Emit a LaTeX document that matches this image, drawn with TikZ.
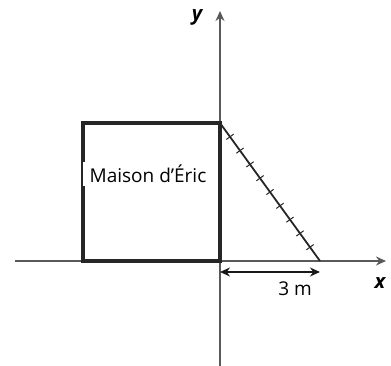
\documentclass[tikz,border=0pt]{standalone}
\usepackage{fontspec}
\setmainfont{Open Sans}
\usetikzlibrary{calc,arrows.meta}

\tikzset{
  axis/.style={->, line width=1.6pt, black!65},
  house/.style={line width=3.2pt, black!85},
  ladder/.style={line width=1.8pt, black!85},
  rung/.style={line width=1pt, black!85},
  dim/.style={<->, line width=1.2pt, black!90},
}

\begin{document}
\begin{tikzpicture}[x=1pt, y=1pt, >={Stealth[length=10pt,width=9pt]}, every node/.style={font=\fontsize{19}{22}\selectfont}]
  \useasboundingbox (-220,-105) rectangle (171,261);

  % Coordinate axes
  \coordinate (O) at (0,0);
  \coordinate (xa) at (-205,0);
  \coordinate (xb) at (166,0);
  \coordinate (ya) at (0,-105);
  \coordinate (yb) at (0,250);
  \draw[axis] (xa) -- (xb);
  \draw[axis] (ya) -- (yb);
  \node[font=\fontsize{20}{22}\selectfont\bfseries\itshape] (xlab) at (160,-22) {x};
  \node[font=\fontsize{20}{22}\selectfont\bfseries\itshape] (ylab) at (-23,244) {y};

  % The house
  \coordinate (hbl) at (-137,0);
  \coordinate (htr) at (0,138);
  \draw[house] (hbl) rectangle (htr);
  \node[fill=white, inner xsep=7pt, inner ysep=3pt] (maison) at (-72,87) {Maison d’Éric};

  % Ladder with its rungs
  \coordinate (top) at (0,138);
  \coordinate (foot) at (100,0);
  \draw[ladder] (top) -- (foot);
  \foreach \i in {1,...,9}{
    \coordinate (r\i) at ($(top)!\i/10!(foot)$);
    \draw[rung] ($(r\i)!4.5pt!90:(foot)$) -- ($(r\i)!4.5pt!-90:(foot)$);
  }

  % Distance to the wall
  \coordinate (da) at (0,-11);
  \coordinate (db) at (100,-11);
  \draw[dim] (da) -- (db);
  \node (dist) at (75,-28) {3 m};
\end{tikzpicture}
\end{document}
